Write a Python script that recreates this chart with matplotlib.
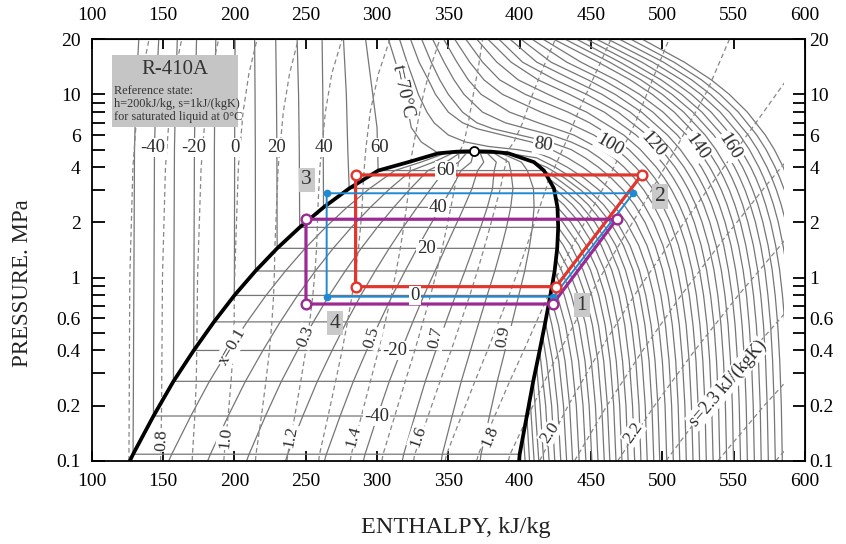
import matplotlib
matplotlib.use("Agg")
import matplotlib.pyplot as plt
from matplotlib.patches import Rectangle
from matplotlib.ticker import FixedLocator, NullFormatter, NullLocator

plt.rcParams['font.family'] = ['Liberation Serif', 'DejaVu Serif']

# ---------------- saturation table ----------------
SAT_T = [-51.5, -50, -40, -30, -20, -10, 0, 10, 20, 30, 40, 50, 60, 65, 70, 71]
SAT_P = [0.100, 0.1085, 0.1754, 0.2713, 0.3999, 0.5728, 0.7987, 1.086, 1.444, 1.880, 2.417, 3.066, 3.840, 4.27, 4.77, 4.87]
SAT_HF = [126.8, 129.0, 143.3, 157.3, 171.5, 185.7, 200.0, 214.8, 230.0, 245.8, 262.5, 280.5, 300.8, 322.0, 343.0, 356.0]
SAT_HG = [399.6, 400.0, 405.0, 409.5, 414.0, 418.0, 421.5, 424.5, 426.3, 427.0, 426.5, 424.0, 417.0, 410.0, 392.0, 380.0]
SAT_SF = [0.703, 0.713, 0.776, 0.8345, 0.8916, 0.9466, 1.000, 1.0532, 1.106, 1.159, 1.2132, 1.2698, 1.3317, 1.3949, 1.4566, 1.494]
SAT_SG = [1.934, 1.930, 1.8963, 1.8675, 1.8436, 1.8237, 1.8054, 1.7903, 1.7746, 1.7584, 1.7401, 1.7170, 1.6850, 1.6581, 1.6052, 1.567]
CRIT_H, CRIT_P = 368.0, 4.90

QUALITIES = [0.1, 0.2, 0.3, 0.4, 0.5, 0.6, 0.7, 0.8, 0.9]

# ---------------- isotherms (h kJ/kg, P MPa) ----------------
LIQUID_ISOTHERMS = {
    -50: [(129.0, .1085), (130, 5), (131, 10), (133, 20)],
    -40: [(143.3, .1754), (144, 5), (145, 10), (147, 20)],
    -30: [(157.3, .2713), (158, 5), (158.8, 10), (160, 20)],
    -20: [(171.5, .3999), (172, 5), (172.5, 10), (173.5, 20)],
    -10: [(185.7, .5728), (186, 5), (186.3, 10), (187, 20)],
    0: [(200.0, .7987), (200.2, 5), (200.3, 10), (200.5, 20)],
    10: [(214.8, 1.086), (214.7, 5), (214.5, 10), (214.2, 20)],
    20: [(230.0, 1.444), (229.8, 5), (229.5, 10), (229, 20)],
    30: [(245.8, 1.88), (245.5, 5), (245, 10), (244, 20)],
    40: [(262.5, 2.417), (262.3, 5), (262, 10), (261.5, 20)],
    50: [(280.5, 3.066), (279.5, 5), (278.5, 10), (276.5, 20)],
    60: [(300.8, 3.84), (300, 6.6), (297, 10), (292, 20)],
    70: [(343.0, 4.77), (331, 5.5), (324, 6.6), (319, 10.5), (313, 15), (308, 20)],
}

VAPOR_ISOTHERMS = {
    -50: [(400.0, .1085), (400.8, .1)],
    -45: [(402.5, .139), (403.8, .1)],
    -40: [(405.0, .1754), (406.9, .1)],
    -35: [(407.3, .219), (407.6, .2), (410.1, .1)],
    -30: [(409.5, .2713), (410.8, .2), (413.4, .1)],
    -25: [(411.8, .33), (414.3, .2), (416.8, .1)],
    -20: [(414.0, .3999), (418.2, .2), (420.6, .1)],
    -15: [(416.0, .482), (418.9, .35), (422.4, .2), (424.6, .1)],
    -10: [(418.0, .5728), (423.1, .35), (426.6, .2), (428.8, .1)],
    -5: [(419.8, .679), (422.6, .55), (427.4, .35), (430.7, .2), (432.9, .1)],
    0: [(421.5, .7987), (427.2, .55), (431.8, .35), (435, .2), (437.1, .1)],
    5: [(423.2, .933), (426.3, .8), (432.1, .55), (436.5, .35), (439.7, .2), (441.7, .1)],
    10: [(424.5, 1.086), (431.3, .8), (437, .55), (441.3, .35), (444.4, .2), (446.4, .1)],
    15: [(425.5, 1.255), (429.2, 1.1), (436.2, .8), (441.6, .55), (445.8, .35), (448.7, .2), (450.6, .1)],
    20: [(426.3, 1.444), (434.4, 1.1), (441, .8), (446.3, .55), (450.2, .35), (453.1, .2), (454.9, .1)],
    25: [(426.8, 1.653), (430.6, 1.5), (439.7, 1.1), (446, .8), (451, .55), (454.8, .35), (457.5, .2), (459.3, .1)],
    30: [(427.0, 1.88), (435.9, 1.5), (444.4, 1.1), (450.5, .8), (455.2, .55), (458.9, .35), (461.5, .2), (463.2, .1)],
    35: [(427.0, 2.136), (430.3, 2), (441.4, 1.5), (449.6, 1.1), (455.4, .8), (459.9, .55), (463.4, .35), (465.9, .2), (467.5, .1)],
    40: [(426.5, 2.417), (436, 2), (446.5, 1.5), (454.3, 1.1), (459.9, .8), (464.3, .55), (467.7, .35), (470.1, .2), (471.7, .1)],
    45: [(425.5, 2.724), (430.9, 2.5), (441.8, 2), (451.8, 1.5), (459.4, 1.1), (464.7, .8), (468.9, .55), (472.1, .35), (474.5, .2), (476, .1)],
    50: [(424.0, 3.066), (425.6, 3), (436.9, 2.5), (447.4, 2), (457.2, 1.5), (464.5, 1.1), (469.6, .8), (473.7, .55), (476.8, .35), (479.1, .2), (480.6, .1)],
    55: [(421.0, 3.43), (431.3, 3), (442.5, 2.5), (452.8, 2), (462.3, 1.5), (469.4, 1.1), (474.4, .8), (478.4, .55), (481.4, .35), (483.6, .2), (485, .1)],
    60: [(417.0, 3.84), (425.5, 3.5), (437.2, 3), (448, 2.5), (458, 2), (467.3, 1.5), (474.1, 1.1), (479, .8), (482.8, .55), (485.8, .35), (488, .2), (489.4, .1)],
    65: [(410.0, 4.27), (419, 4), (431.4, 3.5), (442.9, 3), (453.7, 2.5), (463.6, 2), (472.7, 1.5), (479.4, 1.1), (484.1, .8), (487.8, .55), (490.7, .35), (492.7, .2), (494, .1)],
    70: [(392.0, 4.77), (412, 4.5), (425, 4), (437, 3.5), (448.3, 3), (458.8, 2.5), (468.4, 2), (477.3, 1.5), (483.8, 1.1), (488.4, .8), (492.1, .55), (494.9, .35), (496.9, .2), (498.2, .1)],
}

SUPERCRITICAL_ISOTHERMS = {
    75: [(315.8, 20), (321, 15), (325.5, 12), (329, 10), (335, 8), (340, 7), (350, 6), (362, 5.5), (378, 5.2), (398, 5), (412, 4.8), (421.3, 4.5), (433.5, 4), (445, 3.5), (455.7, 3), (465.7, 2.5), (474.9, 2), (483.4, 1.5), (489.6, 1.1), (494, .8), (497.4, .55), (500, .35), (501.9, .2), (503.1, .1)],
    80: [(323.5, 20), (329.5, 15), (336, 12), (341, 10), (350, 8), (360, 7), (370, 6.5), (388, 6), (408, 5.5), (422.3, 5), (433.7, 4.5), (444.4, 4), (454.6, 3.5), (464.1, 3), (473.1, 2.5), (481.4, 2), (489.2, 1.5), (494.9, 1.1), (499, .8), (502.2, .55), (504.7, .35), (506.5, .2), (507.7, .1)],
    85: [(331.3, 20), (338, 15), (344, 12), (350, 10), (360, 8), (370, 7), (381, 6.5), (400, 6), (421, 5.5), (436, 5), (446, 4.5), (455.3, 4), (464.1, 3.5), (472.5, 3), (480.4, 2.5), (487.9, 2), (494.9, 1.5), (500.2, 1.1), (504, .8), (507, .55), (509.4, .35), (511.1, .2), (512.2, .1)],
    90: [(339, 20), (347, 15), (354, 12), (361, 10), (374, 8), (390, 7), (405, 6.5), (422, 6), (436, 5.5), (447.4, 5), (456, 4.5), (464.3, 4), (472.2, 3.5), (479.8, 3), (487, 2.5), (493.9, 2), (500.4, 1.5), (505.4, 1.1), (509, .8), (511.9, .55), (514.1, .35), (515.8, .2), (516.8, .1)],
    95: [(346.8, 20), (356, 15), (364, 12), (373, 10), (393, 8), (413, 7), (438, 6), (457, 5), (466, 4.5), (473.3, 4), (480.3, 3.5), (487.1, 3), (493.6, 2.5), (499.9, 2), (505.9, 1.5), (510.6, 1.1), (513.9, .8), (516.7, .55), (518.8, .35), (520.4, .2), (521.5, .1)],
    100: [(354.5, 20), (365, 15), (375, 12), (388, 10), (415, 8), (434, 7), (452, 6), (468, 5), (474.8, 4.5), (481.4, 4), (487.7, 3.5), (493.9, 3), (499.9, 2.5), (505.7, 2), (511.3, 1.5), (515.7, 1.1), (518.9, .8), (521.5, .55), (523.6, .35), (525.1, .2), (526.1, .1)],
    105: [(362.3, 20), (374, 15), (386, 12), (404, 10), (434, 8), (449, 7), (463, 6), (476.6, 5), (488.7, 4), (494.6, 3.5), (500.3, 3), (505.9, 2.5), (511.4, 2), (516.7, 1.5), (520.8, 1.1), (523.9, .8), (526.4, .55), (528.4, .35), (529.9, .2), (530.8, .1)],
    110: [(370, 20), (384, 15), (399, 12), (420, 10), (447, 8), (473, 6), (484.6, 5), (495.8, 4), (501.3, 3.5), (506.6, 3), (511.8, 2.5), (517, 2), (522, 1.5), (526, 1.1), (528.9, .8), (531.3, .55), (533.2, .35), (534.6, .2), (535.6, .1)],
    115: [(377.8, 20), (394, 15), (413, 12), (435, 10), (459.4, 8), (481.6, 6), (492.2, 5), (502.6, 4), (507.6, 3.5), (512.6, 3), (517.6, 2.5), (522.4, 2), (527.2, 1.5), (531, 1.1), (533.8, .8), (536.2, .55), (538, .35), (539.4, .2), (540.3, .1)],
    120: [(385.5, 20), (402, 15), (425, 12), (447, 10), (469, 8), (489.4, 6), (499.3, 5), (509, 4), (513.8, 3.5), (518.6, 3), (523.3, 2.5), (527.9, 2), (532.5, 1.5), (536.2, 1.1), (538.9, .8), (541.1, .55), (542.9, .35), (544.2, .2), (545.1, .1)],
    125: [(393.3, 20), (412, 15), (437, 12), (457.8, 10), (477.5, 8), (496.7, 6), (506, 5), (515.3, 4), (519.8, 3.5), (524.4, 3), (528.9, 2.5), (533.3, 2), (537.7, 1.5), (541.3, 1.1), (543.9, .8), (546.1, .55), (547.8, .35), (549.1, .2), (549.9, .1)],
    130: [(401, 20), (422, 15), (448, 12), (467, 10), (485.5, 8), (503.6, 6), (512.6, 5), (521.4, 4), (525.7, 3.5), (530.1, 3), (534.4, 2.5), (538.7, 2), (543, 1.5), (546.3, 1.1), (548.9, .8), (551, .55), (552.7, .35), (553.9, .2), (554.8, .1)],
    135: [(408.8, 20), (433, 15), (458.4, 12), (476, 10), (493.4, 8), (510.5, 6), (518.9, 5), (527.4, 4), (531.5, 3.5), (535.7, 3), (539.9, 2.5), (544, 2), (548.1, 1.5), (551.4, 1.1), (553.9, .8), (555.9, .55), (557.6, .35), (558.8, .2), (559.6, .1)],
    140: [(416.5, 20), (443, 15), (467.4, 12), (484.1, 10), (500.6, 8), (517.1, 6), (525.2, 5), (533.3, 4), (537.3, 3.5), (541.4, 3), (545.4, 2.5), (549.4, 2), (553.4, 1.5), (556.6, 1.1), (559, .8), (560.9, .55), (562.5, .35), (563.7, .2), (564.5, .1)],
    145: [(424, 20), (455, 15), (477.6, 12), (493, 10), (508.4, 8), (523.8, 6), (531.6, 5), (539.3, 4), (543.1, 3.5), (547, 3), (550.8, 2.5), (554.7, 2), (558.5, 1.5), (561.6, 1.1), (563.9, .8), (565.9, .55), (567.4, .35), (568.6, .2), (569.3, .1)],
    150: [(432, 20), (463, 15), (485, 12), (500, 10), (515, 8), (530, 6), (537.5, 5), (545, 4), (548.8, 3.5), (552.5, 3), (556.3, 2.5), (560, 2), (563.8, 1.5), (566.8, 1.1), (569, .8), (570.9, .55), (572.4, .35), (573.5, .2), (574.3, .1)],
    155: [(440, 20), (470.3, 15), (492.2, 12), (506.8, 10), (521.4, 8), (536, 6), (543.4, 5), (550.7, 4), (554.3, 3.5), (558, 3), (561.6, 2.5), (565.3, 2), (568.9, 1.5), (571.9, 1.1), (574, .8), (575.9, .55), (577.3, .35), (578.4, .2), (579.2, .1)],
    160: [(447, 20), (477.8, 15), (499.2, 12), (513.5, 10), (527.8, 8), (542, 6), (549.2, 5), (556.3, 4), (559.8, 3.5), (563.4, 3), (567, 2.5), (570.5, 2), (574.1, 1.5), (577, 1.1), (579.1, .8), (580.9, .55), (582.3, .35), (583.4, .2), (584.1, .1)],
    165: [(454, 20), (485.6, 15), (506.4, 12), (520.3, 10), (534.2, 8), (548.1, 6), (555, 5), (562, 4), (565.5, 3.5), (569, 3), (572.4, 2.5), (575.9, 2), (579.4, 1.5), (582.2, 1.1), (584.2, .8), (586, .55), (587.4, .35)],
    170: [(462, 20), (493.3, 15), (513.6, 12), (527.1, 10), (540.6, 8), (554.2, 6), (561, 5), (567.7, 4), (571.1, 3.5), (574.5, 3), (577.9, 2.5), (581.3, 2), (584.6, 1.5), (587.4, 1.1)],
    175: [(470, 20), (500.8, 15), (520.6, 12), (533.8, 10), (547, 8), (560.2, 6), (566.8, 5), (573.4, 4), (576.7, 3.5), (580, 3), (583.3, 2.5), (586.6, 2)],
    180: [(478, 20), (508.2, 15), (527.5, 12), (540.4, 10), (553.3, 8), (566.2, 6), (572.7, 5), (579.1, 4), (582.3, 3.5), (585.6, 3)],
    185: [(486, 20), (515.5, 15), (534.4, 12), (547, 10), (559.6, 8), (572.2, 6), (578.5, 5), (584.8, 4), (586.4, 3.7)],
}

# ---------------- isentropes (s kJ/(kgK)) ----------------
DOME_ISENTROPES = [0.8, 0.9, 1.0, 1.1, 1.2, 1.3, 1.4, 1.5, 1.6, 1.7, 1.8, 1.9]
LIQUID_ISENTROPES = {
    0.7: [(126.1, .1), (126.7, 1), (128.9, 4), (131.7, 8), (135.3, 13), (140.2, 20)],
    0.8: [(149.0, .213), (149.6, 1), (151.7, 4), (154.6, 8), (158.1, 13), (163.1, 20)],
    0.9: [(173.7, .4225), (174.2, 1), (176.7, 4), (179.8, 8), (183.6, 13), (189, 20)],
    1.0: [(200.0, .7987), (200.2, 1), (202.8, 4), (206.1, 8), (210.2, 13), (215.9, 20)],
    1.1: [(228.3, 1.398), (230.7, 4), (234.3, 8), (238.7, 13), (244.8, 20)],
    1.2: [(258.4, 2.273), (260, 4), (263.8, 8), (268.3, 13), (275.5, 20)],
    1.3: [(290.4, 3.422), (292.1, 5), (295.2, 8), (301, 13), (309, 20)],
    1.4: [(323.7, 4.31), (325, 5), (328.5, 7), (332.5, 10), (337.5, 14), (344, 20)],
    1.5: [(358.0, 4.875), (361, 5.5), (364, 7), (367.5, 10), (371, 14), (374, 20)],
}
VAPOR_ISENTROPES = {
    1.6: [(390.4, 4.784), (396, 5.5), (402, 7), (409, 10), (416.5, 14), (425, 20)],
    1.7: [(420.3, 3.455), (424.5, 4), (430, 5), (434.5, 6), (441, 8), (446.5, 10), (455, 14), (464, 20)],
    1.8: [(422.3, .8916), (441.7, 1.76), (462.6, 3.52), (481.2, 7.04), (496.6, 14.08), (504.7, 20)],
    1.9: [(404.5, .1663), (422.9, .3326), (443.4, .665), (465.5, 1.33), (488.6, 2.66), (511, 5.32), (531.9, 10.64), (547, 20)],
    2.0: [(414, .1), (434, .2), (456.2, .4), (480.4, .8), (506.5, 1.6), (534, 3.2), (562, 6.4), (589.6, 12.8)],
    2.1: [(438.5, .1), (461.2, .2), (486.2, .4), (513.2, .8), (542.3, 1.6), (573, 3.2), (605, 6.4)],
    2.2: [(468.8, .1), (494.5, .2), (522.7, .4), (553.2, .8), (585.9, 1.6)],
    2.3: [(502.6, .1), (531.5, .2), (563, .4), (597, .8)],
    2.4: [(539, .1), (571.4, .2), (606.5, .4)],
    2.5: [(579.5, .1), (614, .2)],
}

# ---------------- refrigeration cycles ----------------
RED_H = [285.0, 485.5, 425.5, 285.0]
RED_P = [3.634, 3.634, 0.892, 0.892]
BLUE_H = [264.7, 479.6, 423.6, 264.7]
BLUE_P = [2.886, 2.886, 0.786, 0.786]
PURPLE_H = [250.2, 468.0, 423.2, 250.2]
PURPLE_P = [2.082, 2.082, 0.717, 0.717]

XTICKS = [100, 150, 200, 250, 300, 350, 400, 450, 500, 550, 600]
YTICKS = [0.1, 0.2, 0.4, 0.6, 1, 2, 4, 6, 10, 20]
YTICKLABELS = ['0.1', '0.2', '0.4', '0.6', '1', '2', '4', '6', '10', '20']
YMINOR = [0.3, 0.5, 0.7, 0.8, 0.9, 3, 5, 7, 8, 9]

LINE_GRAY = '#767676'
DASH_GRAY = '#878787'
TXT = '#2b2b2b'

fig = plt.figure(figsize=(8.46, 5.44), dpi=100)
ax = fig.add_axes([91.7 / 846, 1 - 460.7 / 544, (805 - 91.7) / 846, (460.7 - 39.3) / 544])
ax.set_yscale('log')
ax.set_xlim(100, 600)
ax.set_ylim(0.1, 20)

clip = Rectangle((100, 0.1), 485, 19.9, transform=ax.transData)


def draw(pts, dashed=False, color=LINE_GRAY, lw=0.9, z=2):
    hs = [q[0] for q in pts]
    ps = [q[1] for q in pts]
    if dashed:
        ln, = ax.plot(hs, ps, color=DASH_GRAY, lw=lw, ls=(0, (3.8, 2.6)), zorder=z)
    else:
        ln, = ax.plot(hs, ps, color=color, lw=lw, zorder=z, solid_joinstyle='round')
    ln.set_clip_path(clip)


sat_rows = list(zip(SAT_HF, SAT_HG, SAT_SF, SAT_SG, SAT_P))

# quality lines
for x in QUALITIES:
    pts = [(hf + x * (hg - hf), p) for hf, hg, sf, sg, p in sat_rows] + [(CRIT_H, CRIT_P)]
    draw(pts)

# isotherms
for T, liq in LIQUID_ISOTHERMS.items():
    draw(list(reversed(liq)) + VAPOR_ISOTHERMS[T])
for T, vap in VAPOR_ISOTHERMS.items():
    if T not in LIQUID_ISOTHERMS:
        draw(vap)
for T, pts in SUPERCRITICAL_ISOTHERMS.items():
    draw(pts)

# isentropes
for fam in (LIQUID_ISENTROPES, VAPOR_ISENTROPES):
    for s, pts in fam.items():
        dome = []
        if s in DOME_ISENTROPES:
            dome = [(hf + (s - sf) / (sg - sf) * (hg - hf), p) for hf, hg, sf, sg, p in sat_rows if sf <= s <= sg]
        draw(dome + pts, dashed=True)

# saturation dome
dome_h = SAT_HF + [CRIT_H] + SAT_HG[::-1]
dome_p = SAT_P + [CRIT_P] + SAT_P[::-1]
ax.plot(dome_h, dome_p, color='black', lw=2.7, zorder=4, solid_joinstyle='round')
ax.plot([CRIT_H], [CRIT_P], 'o', ms=6.5, mfc='white', mec='black', mew=1.3, zorder=9)

# cycles
ax.plot(RED_H + RED_H[:1], RED_P + RED_P[:1], color='#e2352b', lw=2.3, zorder=6)
ax.plot(RED_H, RED_P, 'o', ms=7, mfc='white', mec='#e2352b', mew=1.7, zorder=6.5)
ax.plot(BLUE_H + BLUE_H[:1], BLUE_P + BLUE_P[:1], color='#1f8ad2', lw=1.4, zorder=6)
ax.plot(BLUE_H, BLUE_P, 'o', ms=4.5, color='#1f8ad2', zorder=6.5)
ax.plot(PURPLE_H + PURPLE_H[:1], PURPLE_P + PURPLE_P[:1], color='#9b2a93', lw=2.3, zorder=6)
ax.plot(PURPLE_H, PURPLE_P, 'o', ms=7, mfc='white', mec='#9b2a93', mew=1.7, zorder=6.5)


def label(h, p, s, rot=0, size=13.5, z=7):
    ax.text(h, p, s, rotation=rot, ha='center', va='center', fontsize=size, color=TXT, zorder=z,
            bbox=dict(boxstyle='square,pad=0.06', fc='white', ec='none'))


# liquid isotherm labels
for h, s in [(143.0, '-40'), (171.8, '-20'), (200.3, '0'), (229.8, '20'), (262.6, '40'), (302.0, '60')]:
    label(h, 5.13, s)
label(318.4, 10.4, 't=70°C', rot=-78)
# in-dome isotherm labels
for h, p, s in [(347.7, 3.84, '60'), (343.0, 2.417, '40'), (334.8, 1.444, '20'), (326.6, 0.7987, '0'),
                (312.6, 0.3999, '-20'), (299.8, 0.1754, '-40')]:
    label(h, p, s)
# supercritical labels
for h, p, s, r in [(416.6, 5.30, '80', -8), (463.3, 5.30, '100', -30), (493.7, 5.30, '120', -48),
                   (524.1, 5.19, '140', -55), (547.4, 5.19, '160', -58)]:
    label(h, p, s, rot=r)
# quality labels
for h, p, s, r in [(198.3, 0.419, 'x=0.1', 60), (249.7, 0.476, '0.3', 68), (296.5, 0.468, '0.5', 73),
                   (341.0, 0.468, '0.7', 78), (388.5, 0.476, '0.9', 80)]:
    label(h, p, s, rot=r, size=12.5)
# entropy labels
for h, p, s, r in [(149.3, 0.1297, '0.8', 88), (193.7, 0.1325, '1.0', 84), (239.2, 0.1352, '1.2', 79),
                   (283.7, 0.1352, '1.4', 75), (328.9, 0.1352, '1.6', 71), (379.2, 0.1352, '1.8', 67),
                   (421.3, 0.1417, '2.0', 56), (479.6, 0.1417, '2.2', 55)]:
    label(h, p, s, rot=r, size=12.5)
label(545.7, 0.264, 's=2.3 kJ/(kgK)', rot=49, size=13)

# point labels
for h, p, s in [(498.4, 2.77, '2'), (250.7, 3.41, '3'), (443.5, 0.708, '1'), (270.8, 0.563, '4')]:
    ax.text(h, p, s, ha='center', va='center', fontsize=15.5, color='#333333', zorder=8,
            bbox=dict(boxstyle='square,pad=0.12', fc='#c9c9c9', ec='none'))

# info box
ax.add_patch(Rectangle((0.028, 0.7926), 0.1775, 0.1702, transform=ax.transAxes, fc='#c5c5c5', ec='none', zorder=8))
ax.text(0.1168, 0.9272, 'R-410A', transform=ax.transAxes, ha='center', va='center', fontsize=15, color='#333333', zorder=9)
for yy, s in [(0.8773, 'Reference state:'), (0.8464, 'h=200kJ/kg, s=1kJ/(kgK)'), (0.8155, 'for saturated liquid at 0°C')]:
    ax.text(0.031, yy, s, transform=ax.transAxes, ha='left', va='center', fontsize=8.8, color='#333333', zorder=9)

# axes / ticks
for sp in ax.spines.values():
    sp.set_linewidth(1.3)
ax.set_xticks(XTICKS)
ax.set_xticklabels([str(v) for v in XTICKS])
ax.yaxis.set_major_locator(FixedLocator(YTICKS))
ax.set_yticklabels(YTICKLABELS)
ax.yaxis.set_minor_locator(FixedLocator(YMINOR))
ax.yaxis.set_minor_formatter(NullFormatter())
ax.xaxis.set_minor_locator(NullLocator())
ax.tick_params(axis='x', which='major', direction='in', length=7, width=1.3, top=True, labelsize=14, pad=9)
ax.tick_params(axis='y', which='both', direction='in', length=9, width=1.3, right=True, labelsize=14, pad=8)

secx = ax.secondary_xaxis('top')
secx.set_xticks(XTICKS)
secx.set_xticklabels([str(v) for v in XTICKS])
secx.tick_params(length=0, labelsize=14, pad=11)
secy = ax.secondary_yaxis('right')
secy.yaxis.set_major_locator(FixedLocator(YTICKS))
secy.set_yticklabels(YTICKLABELS)
secy.yaxis.set_minor_locator(NullLocator())
secy.yaxis.set_minor_formatter(NullFormatter())
secy.tick_params(which='both', length=0, labelsize=14, pad=3)

fig.text(456 / 846, 1 - 527 / 544, 'ENTHALPY, kJ/kg', ha='center', va='center', fontsize=17.5, color='#222222')
fig.text(22 / 846, 1 - 283 / 544, 'PRESSURE. MPa', ha='center', va='center', rotation=90, fontsize=16.5, color='#222222')

fig.savefig('out.png', dpi=100)
